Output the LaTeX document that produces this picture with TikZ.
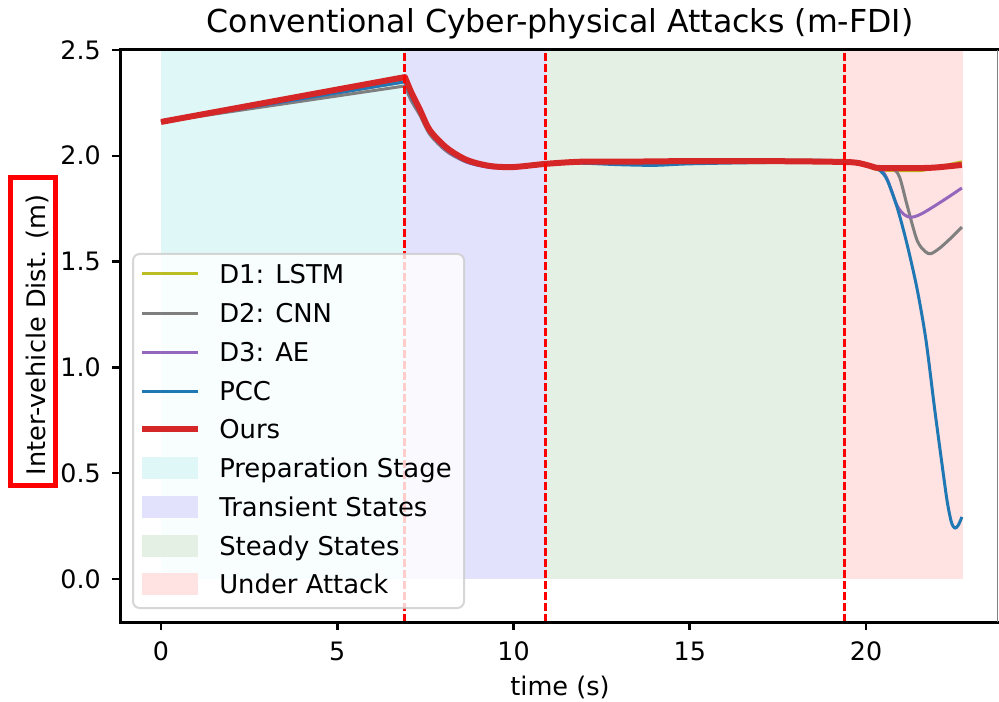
\documentclass[tikz,border=0pt]{standalone}
\usepackage{fontspec}
\setmainfont{DejaVu Sans}
\definecolor{cOlive}{HTML}{BCBD22}
\definecolor{cGray}{HTML}{7F7F7F}
\definecolor{cPurple}{HTML}{9467BD}
\definecolor{cBlue}{HTML}{1F77B4}
\definecolor{cRed}{HTML}{D62728}
\definecolor{shPrep}{RGB}{224,247,247}
\definecolor{shTrans}{RGB}{226,226,252}
\definecolor{shSteady}{RGB}{228,240,228}
\definecolor{shAttack}{RGB}{255,226,226}
\definecolor{legFrame}{RGB}{204,204,204}
\begin{document}
\begin{tikzpicture}[x=0.75pt,y=-0.75pt,
  spine/.style={line width=2.25pt,black},
  tickmark/.style={line width=1.9pt,black},
  ticklab/.style={font=\fontsize{19}{22}\selectfont,inner sep=0pt},
  curve/.style={line width=2.25pt,line join=round,line cap=butt},
  ourcurve/.style={line width=4.5pt,cRed,line join=round},
  phase/.style={red,line width=2.25pt,dash pattern=on 6pt off 2.25pt},
  legtext/.style={font=\fontsize{19.4}{22}\selectfont,anchor=base west,inner sep=0pt},
]
% canvas
\fill[white] (0,0) rectangle (999,702);
\useasboundingbox (0,0) rectangle (999,702);

% data area: t in seconds, v in metres
\begin{scope}[shift={(161,579)},x=26.4375pt,y=158.7pt]
  % phase shading
  \fill[shPrep]   (0,0) rectangle (6.92,2.5);
  \fill[shTrans]  (6.92,0) rectangle (10.92,2.5);
  \fill[shSteady] (10.92,0) rectangle (19.38,2.5);
  \fill[shAttack] (19.38,0) rectangle (22.75,2.5);

  % D1: LSTM
  \draw[curve,cOlive] (0,2.16) -- plot[smooth,tension=0.5] coordinates {
    (6.92,2.35) (7.1,2.28) (7.35,2.20) (7.63,2.11) (8.11,2.03) (8.68,1.975)
    (9.33,1.95) (10.0,1.947) (10.92,1.962) (11.9,1.97) (13,1.97) (15,1.972)
    (17,1.973) (19.0,1.972) (19.7,1.965) (20.1,1.948) (20.4,1.933) (21.5,1.930)
    (22.0,1.945) (22.72,1.972)};
  % D2: CNN
  \draw[curve,cGray] (0,2.16) -- plot[smooth,tension=0.5] coordinates {
    (6.92,2.33) (7.1,2.26) (7.35,2.19) (7.63,2.10) (8.11,2.02) (8.68,1.97)
    (9.33,1.948) (10,1.945) (10.92,1.962) (11.9,1.972) (13,1.972) (15,1.975)
    (17,1.978) (18.5,1.98) (19.0,1.976) (19.7,1.968) (20.1,1.952) (20.4,1.941)
    (20.75,1.94) (20.95,1.90) (21.16,1.77) (21.45,1.60) (21.7,1.545)
    (21.85,1.538) (22.1,1.565) (22.4,1.61) (22.72,1.663)};
  % D3: AE
  \draw[curve,cPurple] (0,2.16) -- plot[smooth,tension=0.5] coordinates {
    (6.92,2.35) (7.1,2.28) (7.35,2.20) (7.63,2.11) (8.11,2.025) (8.68,1.97)
    (9.33,1.945) (10,1.943) (10.92,1.962) (11.9,1.97) (13,1.972) (15,1.972)
    (17,1.973) (19.0,1.972) (19.7,1.968) (20.1,1.953) (20.4,1.94) (20.6,1.89)
    (20.88,1.765) (21.1,1.72) (21.3,1.71) (21.6,1.728) (22.2,1.79) (22.72,1.848)};
  % PCC
  \draw[curve,cBlue] (0,2.16) -- plot[smooth,tension=0.5] coordinates {
    (6.92,2.35) (7.1,2.28) (7.35,2.20) (7.63,2.11) (8.11,2.028) (8.68,1.972)
    (9.33,1.948) (10,1.945) (10.92,1.96) (11.9,1.965) (13,1.958) (14,1.955)
    (15,1.962) (17,1.968) (19.0,1.97) (19.7,1.965) (20.0,1.955) (20.2,1.945)
    (20.4,1.93) (20.6,1.886) (20.88,1.758) (21.16,1.585) (21.45,1.37)
    (21.7,1.13) (21.95,0.80) (22.15,0.55) (22.3,0.37) (22.42,0.27)
    (22.52,0.24) (22.62,0.255) (22.72,0.293)};
  % Ours
  \draw[ourcurve] (0,2.16) -- plot[smooth,tension=0.5] coordinates {
    (6.92,2.372) (7.1,2.30) (7.35,2.216) (7.63,2.12) (8.11,2.037) (8.68,1.98)
    (9.33,1.952) (10.0,1.947) (10.92,1.962) (11.9,1.972) (13,1.972) (15,1.975)
    (17,1.975) (19.0,1.972) (19.7,1.968) (20.1,1.953) (20.4,1.942) (21.5,1.942)
    (22.0,1.945) (22.72,1.957)};

  % phase boundaries
  \coordinate (b1lo) at (6.92,-0.203);  \coordinate (b1hi) at (6.92,2.5);
  \coordinate (b2lo) at (10.92,-0.203); \coordinate (b2hi) at (10.92,2.5);
  \coordinate (b3lo) at (19.38,-0.203); \coordinate (b3hi) at (19.38,2.5);
  \draw[phase] (b1lo) -- (b1hi);
  \draw[phase] (b2lo) -- (b2hi);
  \draw[phase] (b3lo) -- (b3hi);
\end{scope}

% legend
\node[draw=legFrame,draw opacity=0.8,line width=1.5pt,fill=white,fill opacity=0.8,
      rounded corners=5pt,minimum width=331*0.75pt,minimum height=354*0.75pt,
      inner sep=0pt] (legend) at (298.5,431) {};
\foreach \y/\c/\w/\t [count=\i] in {274/cOlive/2.25pt/D1: LSTM, 313/cGray/2.25pt/D2: CNN,
    352/cPurple/2.25pt/D3: AE, 391/cBlue/2.25pt/PCC, 429/cRed/4.5pt/Ours} {
  \coordinate (la\i) at (142,\y);
  \coordinate (lb\i) at (198,\y);
  \draw[\c,line width=\w] (la\i) -- (lb\i);
  \node[legtext] (lt\i) at (219,\y+9) {\t};
}
\foreach \y/\c/\t [count=\i] in {468/shPrep/Preparation Stage, 507/shTrans/Transient States,
    546/shSteady/Steady States, 584/shAttack/Under Attack} {
  \fill[\c] (142,\y-11) rectangle (198,\y+11);
  \node[legtext] (ls\i) at (219,\y+9) {\t};
}

% axes frame
\coordinate (oLL) at (120,622);
\coordinate (oUL) at (120,50);
\coordinate (oUR) at (999,50);
\coordinate (oLR) at (999,622);
\draw[spine,line cap=rect] (oLR) -- (oLL) -- (oUL) -- (oUR);
\draw[gray,line width=0.9pt] (997.5,50) -- (997.5,622);

% x ticks
\foreach \t in {0,5,10,15,20} {
  \pgfmathsetmacro{\px}{161+35.25*\t}
  \draw[tickmark] (\px,622) -- (\px,630);
  \node[ticklab,anchor=base] (xt\t) at (\px,660) {\t};
}
% y ticks
\foreach \v/\lab [count=\i] in {0/0.0,0.5/0.5,1/1.0,1.5/1.5,2/2.0,2.5/2.5} {
  \pgfmathsetmacro{\py}{579-211.6*\v}
  \draw[tickmark] (112,\py) -- (120,\py);
  \node[ticklab,anchor=base east] (yt\i) at (101,\py+9.2) {\lab};
}

% titles
\node[font=\fontsize{23.7}{28}\selectfont,anchor=base,inner sep=0pt] (title) at (560,33)
  {Conventional Cyber-physical Attacks (m-FDI)};
\node[font=\fontsize{19.2}{22}\selectfont,anchor=base,inner sep=0pt] (xlabel) at (560,695)
  {time (s)};
\node[font=\fontsize{19.2}{22}\selectfont,anchor=base,rotate=90,inner sep=0pt] (ylabel) at (45,335)
  {Inter-vehicle Dist. (m)};
\draw[red,line width=3.75pt] (10.5,177.5) rectangle (55.5,485.5);
\end{tikzpicture}
\end{document}
